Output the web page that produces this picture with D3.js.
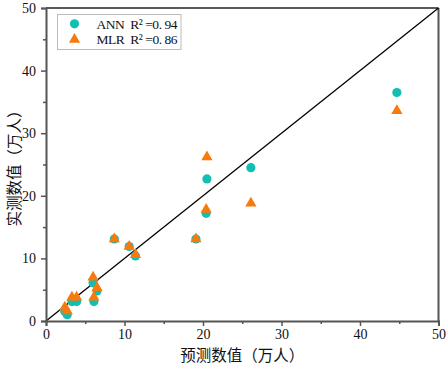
<!DOCTYPE html>
<html><head><meta charset="utf-8">
<script src="https://cdn.jsdelivr.net/npm/d3@7"></script>
<style>body{margin:0;background:#fff}svg{display:block}</style>
</head><body>
<svg id="c" width="448" height="370"></svg>
<script>
const predicted = [2.4, 2.7, 3.3, 3.9, 6.0, 6.5, 6.1, 8.7, 10.6, 11.4, 19.1, 20.4, 20.5, 26.1, 44.7];
const annMeasured = [1.5, 1.0, 3.1, 3.1, 6.1, 4.8, 3.1, 13.1, 11.9, 10.4, 13.1, 17.2, 22.7, 24.5, 36.5];
const mlrMeasured = [2.2, 1.6, 3.8, 3.8, 7.0, 5.3, 3.8, 13.1, 11.9, 10.6, 13.1, 17.8, 26.2, 18.8, 33.6];
const majorTicks = [0, 10, 20, 30, 40, 50];
const minorTicks = [5, 15, 25, 35, 45];
const legendLabels = ["ANN  R² =0. 94", "MLR  R² =0. 86"];
const xTitle = "预测数值（万人）";
const yTitle = "实测数值（万人）";

const svg = d3.select("#c");
const x = d3.scaleLinear().domain([0, 50]).range([46, 438.5]);
const y = d3.scaleLinear().domain([0, 50]).range([321, 8]);
const numFont = "'Liberation Serif','DejaVu Serif',serif";
const cjkFont = "'Noto Sans CJK SC','Noto Sans CJK JP',sans-serif";
const teal = "#12BFB2", orange = "#F87A0C";

// frame top and right
svg.append("line").attr("x1", x(0)).attr("x2", x(50)).attr("y1", y(50)).attr("y2", y(50))
  .attr("stroke", "#222").attr("stroke-width", 1.5);
svg.append("line").attr("x1", x(50)).attr("x2", x(50)).attr("y1", y(50)).attr("y2", y(0))
  .attr("stroke", "#555").attr("stroke-width", 2);

// diagonal
svg.append("line").attr("x1", x(0)).attr("y1", y(0)).attr("x2", x(50)).attr("y2", y(50))
  .attr("stroke", "#000").attr("stroke-width", 1.3);

// axes
const xAxis = d3.axisBottom(x).tickValues(majorTicks).tickSize(5).tickPadding(3).tickFormat(d3.format("d"));
const yAxis = d3.axisLeft(y).tickValues(majorTicks).tickSize(5).tickPadding(5).tickFormat(d3.format("d"));
svg.append("g").attr("transform", `translate(0,${y(0)})`).call(xAxis);
svg.append("g").attr("transform", `translate(${x(0)},0)`).call(yAxis);
svg.append("g").attr("transform", `translate(0,${y(0)})`).call(d3.axisBottom(x).tickValues(minorTicks).tickSize(3).tickFormat(""))
  .call(g => g.select(".domain").remove());
svg.append("g").attr("transform", `translate(${x(0)},0)`).call(d3.axisLeft(y).tickValues(minorTicks).tickSize(3).tickFormat(""))
  .call(g => g.select(".domain").remove());
svg.selectAll(".domain").attr("stroke", "#555").attr("stroke-width", 2);
svg.selectAll(".tick line").attr("stroke", "#555").attr("stroke-width", 1.5);
svg.selectAll(".tick text").attr("font-family", numFont).attr("font-size", 14).attr("fill", "#111");

// axis titles
svg.append("text").attr("x", (x(0) + x(50)) / 2).attr("y", 361).attr("text-anchor", "middle")
  .attr("font-family", cjkFont).attr("font-size", 15.5).attr("fill", "#111").text(xTitle);
svg.append("text").attr("transform", `translate(20,${(y(0) + y(50)) / 2}) rotate(-90)`)
  .attr("text-anchor", "middle").attr("font-family", cjkFont).attr("font-size", 15.5).attr("fill", "#111").text(yTitle);

// points
const ann = predicted.map((p, i) => ({ p, m: annMeasured[i] }));
const mlr = predicted.map((p, i) => ({ p, m: mlrMeasured[i] }));
svg.append("g").selectAll("circle").data(ann).join("circle")
  .attr("cx", d => x(d.p)).attr("cy", d => y(d.m)).attr("r", 4.6).attr("fill", teal);
const tri = d3.symbol().type(d3.symbolTriangle).size(55);
svg.append("g").selectAll("path").data(mlr).join("path")
  .attr("transform", d => `translate(${x(d.p)},${y(d.m)})`).attr("d", tri).attr("fill", orange);

// legend
const lg = svg.append("g");
lg.append("rect").attr("x", 57.5).attr("y", 14.5).attr("width", 123.5).attr("height", 35)
  .attr("fill", "#fff").attr("stroke", "#bbb").attr("stroke-width", 1);
lg.append("circle").attr("cx", 74.5).attr("cy", 23.8).attr("r", 4.6).attr("fill", teal);
lg.append("path").attr("transform", "translate(74.5,39.5)").attr("d", tri).attr("fill", orange);
legendLabels.forEach((t, i) => {
  lg.append("text").attr("x", 96.5).attr("y", 28.5 + i * 15.5).attr("font-family", numFont)
    .attr("font-size", 13.5).attr("fill", "#111").style("white-space", "pre")
    .attr("textLength", 81).attr("lengthAdjust", "spacing").text(t);
});
</script>
</body></html>
